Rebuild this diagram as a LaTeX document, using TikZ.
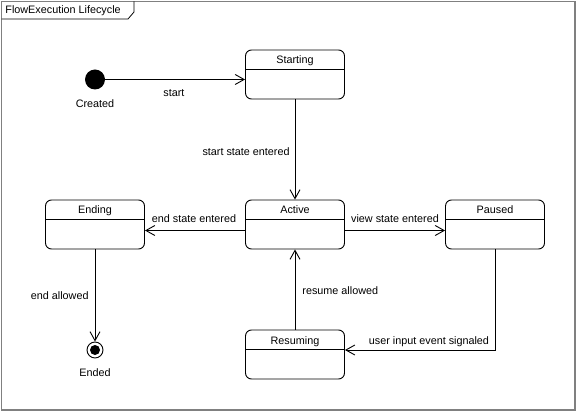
\documentclass[tikz,border=0pt]{standalone}
\usepackage{fontspec}
\setmainfont{Liberation Sans}
\usepackage{tikz}
\usetikzlibrary{arrows.meta}

\begin{document}
\begin{tikzpicture}[->,>={Straight Barb[length=9pt,width=10pt]},x=1pt,y=-1pt,
	line width=0.9pt,node distance=200pt,
	font=\fontsize{10.8}{13}\selectfont]
	\tikzstyle{state}=[draw,->,rounded corners=6pt,minimum width=99pt,
		inner ysep=0pt,text height=14pt,text depth=35pt,
		path picture={\draw[-] ([yshift=-19pt]path picture bounding box.north west)
			-- ([yshift=-19pt]path picture bounding box.north east);}]
	\tikzstyle{initialdot}=[circle,fill=black,minimum size=20pt,inner sep=0pt]
	\tikzstyle{finaldot}=[circle,draw,fill=white,minimum size=16pt,inner sep=0pt,
		path picture={\fill[black] (path picture bounding box.center) circle (5pt);}]
	\tikzstyle{lbl}=[inner sep=1pt]
	
	\useasboundingbox (0,0) rectangle (577,411);
	\draw[-,gray,line width=1.5pt] (1.5,1.5) rectangle (575,410);
	\node[anchor=west,inner sep=0pt] (title) at (5,10.5) {FlowExecution Lifecycle};
	\draw[-,line width=0.8pt] (1.5,19) -- (128,19) -- (134,12) -- (134,1.5);
	
	\node[state]          (active) at (295,224.5) {Active};
	\node[state]          (starting) [above of=active,node distance=150pt] {Starting};
	\node[state]          (ending) [left of=active] {Ending};
	\node[state]          (paused) [right of=active] {Paused};
	\node[state]          (resuming) [below of=active,node distance=130pt] {Resuming};
	\node[initialdot,label={[label distance=6pt]below:Created}] (created)
		[above of=ending,node distance=145pt] {};
	\node[finaldot,label={[label distance=6pt]below:Ended}] (ended)
		[below of=ending,node distance=125.5pt] {};
	
	\draw (created) -- node[lbl,pos=.49,below=9pt] {start} (created -| starting.west);
	\draw (starting) -- node[lbl,pos=.52,left=4pt] {start state entered} (active);
	\draw ([yshift=-6pt]active.west) -- node[lbl,pos=.51,above=6pt] {end state entered}
		([yshift=-6pt]ending.east);
	\draw ([yshift=-6pt]active.east) -- node[lbl,pos=.5,above=6pt] {view state entered}
		([yshift=-6pt]paused.east -| paused.west);
	\draw (ending) -- node[lbl,pos=.5,left=5pt] {end allowed} (ended);
	\draw (paused.south) |- node[lbl,pos=.72,above=2pt] {user input event signaled}
		([yshift=4.5pt]resuming.east);
	\draw (resuming) -- node[lbl,pos=.48,right=6pt] {resume allowed} (active);
	
\end{tikzpicture}
\end{document}
